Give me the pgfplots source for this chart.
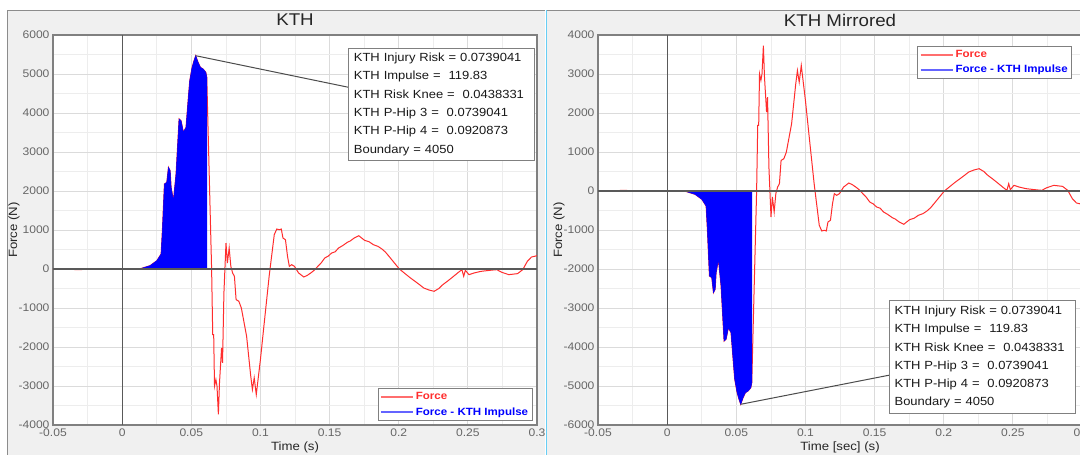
\documentclass[border=0pt]{standalone}
\usepackage{fontspec}
\setmainfont{Liberation Sans}[FakeStretch=1.1]
\usepackage{pgfplots}
\pgfplotsset{compat=1.18}
\usepackage{pgfplotstable}

\definecolor{forcered}{RGB}{255,45,45}
\definecolor{legred}{RGB}{255,110,110}
\definecolor{legblue}{RGB}{100,100,255}

% force trace (time in s, force in N)
\pgfplotstableread{
t f
-0.05 0
-0.04 -10
-0.03 -15
-0.02 5
-0.01 10
0.0 0
0.006 5
0.0125 0
0.0202 85
0.0251 212
0.0282 385
0.0291 982
0.0306 2179
0.0323 2220
0.0335 2606
0.0347 2520
0.0354 2094
0.0371 1752
0.0390 2436
0.0412 3846
0.0426 3800
0.0443 3504
0.0462 3632
0.0479 4400
0.0489 4828
0.0506 5170
0.0520 5340
0.0532 5469
0.0549 5299
0.0566 5170
0.0585 5128
0.0605 5043
0.0612 4915
0.0618 4060
0.0647 0
0.0655 -1681
0.0662 -1680
0.0668 -3004
0.0678 -2834
0.0686 -3004
0.0696 -3730
0.0704 -2919
0.0719 -2023
0.0726 -2407
0.0736 -614
0.0751 666
0.0761 154
0.0774 538
0.0786 68
0.0799 -102
0.0812 -188
0.0824 -785
0.0844 -828
0.0862 -998
0.0900 -1724
0.0930 -2748
0.0942 -3090
0.0955 -2791
0.0970 -3218
0.0980 -2919
0.1000 -2322
0.1025 -1468
0.1063 -188
0.1100 879
0.1118 1024
0.1138 1007
0.1151 1024
0.1163 794
0.1181 751
0.1196 324
0.1209 68
0.1226 111
0.1246 68
0.1276 -102
0.1314 -205
0.1340 -160
0.1364 -102
0.1390 -30
0.1415 68
0.1440 160
0.1465 282
0.1490 330
0.1515 410
0.1540 440
0.1565 538
0.1595 600
0.1628 683
0.1650 720
0.1678 794
0.1711 854
0.1730 800
0.1754 734
0.1785 700
0.1817 623
0.1850 580
0.1879 512
0.1905 430
0.1930 324
0.1970 150
0.2005 0
0.2055 -145
0.2085 -230
0.2118 -316
0.2150 -400
0.2181 -487
0.2220 -540
0.2256 -572
0.2290 -500
0.2319 -401
0.2350 -320
0.2382 -230
0.2432 -85
0.2457 -17
0.2470 -188
0.2482 -34
0.2508 -145
0.2545 -102
0.2595 -60
0.2658 -34
0.2709 -17
0.2746 -85
0.2796 -145
0.2859 -119
0.2897 -17
0.2930 196
0.2960 307
0.3000 341
}\force

% impulse region (filled down to zero)
\pgfplotstableread{
t f
0.0125 0
0.0202 85
0.0251 212
0.0282 385
0.0291 982
0.0306 2179
0.0323 2220
0.0335 2606
0.0347 2520
0.0354 2094
0.0371 1752
0.0390 2436
0.0412 3846
0.0426 3800
0.0443 3504
0.0462 3632
0.0479 4400
0.0489 4828
0.0506 5170
0.0520 5340
0.0532 5469
0.0549 5299
0.0566 5170
0.0585 5128
0.0605 5043
0.0612 4915
0.0612 0
}\impulse

\pgfplotsset{
  kth/.style={
    scale only axis, width=484pt, height=390pt, anchor=south west,
    xmin=-0.05, xmax=0.3,
    xtick={-0.05,0,0.05,0.1,0.15,0.2,0.25,0.3},
    xticklabels={-0.05,0,0.05,0.1,0.15,0.2,0.25,0.3},
    minor x tick num=1, minor y tick num=1,
    grid=both,
    major grid style={black!14, line width=0.8pt},
    minor grid style={black!7, line width=0.6pt},
    major tick length=0pt, minor tick length=0pt,
    axis line style={black!50, line width=1.3pt},
    axis background/.style={fill=white},
    tick label style={font=\fontsize{11}{12}\selectfont, text=black!60},
    scaled ticks=false,
    /pgf/number format/assume math mode=true,
    title style={font=\fontsize{17}{20}\selectfont, text=black!85,
      at={(axis description cs:0.5,1.023)}, anchor=center},
    xlabel style={font=\fontsize{12}{14}\selectfont, text=black!85,
      at={(axis description cs:0.5,-0.0564)}, anchor=center},
    ylabel style={font=\fontsize{12}{14}\selectfont, text=black!85,
      at={(axis description cs:-0.0806,0.5)}, anchor=center},
    ylabel={Force (N)},
    legend cell align=left,
    legend style={draw=black!50, line width=1pt, fill=white,
      font=\bfseries\fontsize{10.5}{12}\selectfont, inner sep=2pt, row sep=2pt},
    legend image code/.code={\draw[#1] (0pt,0pt) -- (32pt,0pt);},
  },
}
\tikzset{
  kthbox/.style={draw=black!50, fill=white, line width=1pt, anchor=north west,
    align=left, inner sep=5pt, text width=176pt,
    font=\fontsize{11.8}{18.3}\selectfont, text=black!90},
}

\begin{document}
\begin{tikzpicture}
\useasboundingbox (0,0) rectangle (1080pt,-455pt);
\fill[white] (0,0) rectangle (1080pt,-455pt);
\fill[black!6] (7pt,-10pt) rectangle (545pt,-460pt);
\draw[black!45, line width=1pt] (7pt,-460pt) -- (7pt,-10pt) -- (545pt,-10pt);
\fill[black!6] (547pt,-10pt) rectangle (1085pt,-460pt);
\draw[black!45, line width=1pt] (547pt,-10pt) -- (1085pt,-10pt);
\draw[cyan!60, line width=1pt] (546pt,-10pt) -- (546pt,-460pt);

\begin{axis}[kth, at={(53pt,-425pt)},
    ymin=-4000, ymax=6000,
    ytick={-4000,-3000,-2000,-1000,0,1000,2000,3000,4000,5000,6000},
    yticklabels={-4000,-3000,-2000,-1000,0,1000,2000,3000,4000,5000,6000},
    title={KTH}, xlabel={Time (s)},
    legend style={at={(0.991,0.01)}, anchor=south east}]
\addplot[forcered, line width=1pt, forget plot] table[x=t, y=f] {\force};
\addplot[blue, fill=blue, line width=0.5pt, forget plot] table[x=t, y=f] {\impulse};
\addlegendimage{legred, line width=1.8pt}
\addlegendentry{\textcolor{forcered}{Force}}
\addlegendimage{legblue, line width=1.8pt}
\addlegendentry{\textcolor{blue}{Force - KTH Impulse}}
\draw[black!65, line width=1.2pt] (axis cs:0,-4000) -- (axis cs:0,6000);
\draw[black!65, line width=1.2pt] (axis cs:-0.05,0) -- (axis cs:0.3,0);
\draw[black!70, line width=1pt] (axis cs:0.0532,5469) -- (axis cs:0.1636,4660);
\node[kthbox] at (axis cs:0.1636,5676) {KTH Injury Risk = 0.0739041\\KTH Impulse = \ 119.83\\KTH Risk Knee = \ 0.0438331\\KTH P-Hip 3 = \ 0.0739041\\KTH P-Hip 4 = \ 0.0920873\\Boundary = 4050};
\end{axis}

\begin{axis}[kth, at={(598pt,-425pt)},
    ymin=-6000, ymax=4000,
    ytick={-6000,-5000,-4000,-3000,-2000,-1000,0,1000,2000,3000,4000},
    yticklabels={-6000,-5000,-4000,-3000,-2000,-1000,0,1000,2000,3000,4000},
    title={KTH Mirrored}, xlabel={Time [sec] (s)},
    legend style={at={(0.98,0.972)}, anchor=north east}]
\addplot[forcered, line width=1pt, forget plot] table[x=t, y expr=-\thisrow{f}] {\force};
\addplot[blue, fill=blue, line width=0.5pt, forget plot] table[x=t, y expr=-\thisrow{f}] {\impulse};
\addlegendimage{legred, line width=1.8pt}
\addlegendentry{\textcolor{forcered}{Force}}
\addlegendimage{legblue, line width=1.8pt}
\addlegendentry{\textcolor{blue}{Force - KTH Impulse}}
\draw[black!65, line width=1.2pt] (axis cs:0,-6000) -- (axis cs:0,4000);
\draw[black!65, line width=1.2pt] (axis cs:-0.05,0) -- (axis cs:0.3,0);
\draw[black!70, line width=1pt] (axis cs:0.0532,-5469) -- (axis cs:0.1605,-4723);
\node[kthbox] at (axis cs:0.1605,-2805) {KTH Injury Risk = 0.0739041\\KTH Impulse = \ 119.83\\KTH Risk Knee = \ 0.0438331\\KTH P-Hip 3 = \ 0.0739041\\KTH P-Hip 4 = \ 0.0920873\\Boundary = 4050};
\end{axis}
\end{tikzpicture}
\end{document}
